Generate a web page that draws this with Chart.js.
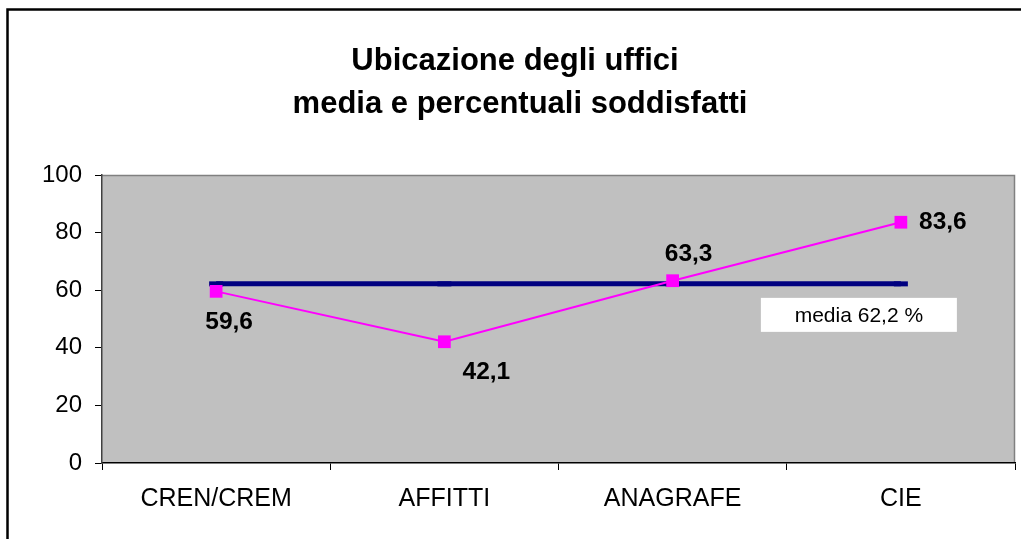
<!DOCTYPE html>
<html>
<head>
<meta charset="utf-8">
<title>Ubicazione degli uffici</title>
<script src="https://cdn.jsdelivr.net/npm/chart.js@4/dist/chart.umd.min.js"></script>
<style>
  html, body { margin: 0; padding: 0; background: #ffffff; }
  #wrap { position: relative; width: 1021px; height: 539px; }
</style>
</head>
<body>
<div id="wrap"><canvas id="chart" width="1021" height="539"></canvas></div>
<script>
// chart data
const categories = ["CREN/CREM", "AFFITTI", "ANAGRAFE", "CIE"];
const soddisfatti = [59.6, 42.1, 63.3, 83.6];
const mediaValue = 62.2;
const mediaLine = [mediaValue, mediaValue, mediaValue, mediaValue];
const yTicks = [0, 20, 40, 60, 80, 100];
const titleLines = ["Ubicazione degli uffici", "media e percentuali soddisfatti"];
const mediaLabel = "media 62,2 %";

const FONT = "'Liberation Sans', Arial, sans-serif";

// where each value label sits relative to its point (dx, dy)
const labelOffsets = [[13, 31], [42, 30], [16, -26], [42, 0]];

function fmt(v) {
  return v.toFixed(1).replace(".", ",");
}

const framePlugin = {
  id: "frame",
  beforeDraw: function (chart) {
    let ctx = chart.ctx;
    let a = chart.chartArea;
    ctx.save();
    ctx.fillStyle = "#ffffff";
    ctx.fillRect(0, 0, chart.width, chart.height);
    // outer chart border
    ctx.strokeStyle = "#000000";
    ctx.lineWidth = 2.5;
    ctx.strokeRect(7.5, 9.5, chart.width + 20, chart.height + 20);
    // plot area
    ctx.fillStyle = "#c0c0c0";
    ctx.fillRect(a.left, a.top, a.right - a.left, a.bottom - a.top);
    ctx.strokeStyle = "#808080";
    ctx.lineWidth = 1.5;
    ctx.beginPath();
    ctx.moveTo(a.left, a.top + 0.5);
    ctx.lineTo(a.right - 0.5, a.top + 0.5);
    ctx.lineTo(a.right - 0.5, a.bottom);
    ctx.stroke();
    ctx.restore();
  },
  afterDraw: function (chart) {
    let ctx = chart.ctx;
    let xs = chart.scales.x;
    let ys = chart.scales.y;
    ctx.save();

    // title
    ctx.fillStyle = "#000000";
    ctx.font = "bold 31px " + FONT;
    ctx.textAlign = "center";
    ctx.textBaseline = "alphabetic";
    ctx.fillText(titleLines[0], 515, 70);
    ctx.fillText(titleLines[1], 520, 113);

    // value labels
    ctx.font = "bold 24.5px " + FONT;
    ctx.textBaseline = "middle";
    for (let i = 0; i < soddisfatti.length; i++) {
      let px = xs.getPixelForValue(i);
      let py = ys.getPixelForValue(soddisfatti[i]);
      ctx.fillText(fmt(soddisfatti[i]), px + labelOffsets[i][0], py + labelOffsets[i][1]);
    }

    // media box
    let bx = xs.getPixelForValue(3) - 140;
    let by = ys.getPixelForValue(mediaValue) + 14;
    ctx.fillStyle = "#ffffff";
    ctx.fillRect(bx, by, 196, 34);
    ctx.fillStyle = "#000000";
    ctx.font = "21px " + FONT;
    ctx.fillText(mediaLabel, bx + 98, by + 18);
    ctx.restore();
  }
};

new Chart(document.getElementById("chart"), {
  type: "line",
  data: {
    labels: categories,
    datasets: [
      {
        label: "media",
        data: mediaLine,
        borderColor: "#000080",
        borderWidth: 5,
        pointStyle: "line",
        pointRadius: 7,
        pointBorderWidth: 5,
        pointBorderColor: "#000080",
        pointBackgroundColor: "#000080",
        fill: false,
        order: 2
      },
      {
        label: "soddisfatti",
        data: soddisfatti,
        borderColor: "#ff00ff",
        borderWidth: 2,
        pointStyle: "rect",
        pointRadius: 9,
        pointBorderWidth: 0,
        pointBackgroundColor: "#ff00ff",
        pointBorderColor: "#ff00ff",
        fill: false,
        order: 1
      }
    ]
  },
  options: {
    responsive: false,
    animation: false,
    layout: { autoPadding: false, padding: { top: 175, right: 6, left: 0, bottom: 0 } },
    plugins: {
      legend: { display: false },
      tooltip: { enabled: false },
      title: { display: false }
    },
    scales: {
      x: {
        offset: true,
        grid: {
          offset: true,
          drawOnChartArea: false,
          drawTicks: true,
          tickLength: 7,
          color: "#000000"
        },
        border: { display: true, color: "#000000", width: 1.5 },
        ticks: {
          color: "#000000",
          padding: 14,
          maxRotation: 0,
          font: { family: FONT, size: 25 }
        },
        afterFit: function (scale) {
          scale.height = 76;
          scale.paddingLeft = 0;
          scale.paddingRight = 0;
        }
      },
      y: {
        min: 0,
        max: 100,
        afterBuildTicks: function (scale) {
          scale.ticks = yTicks.map(function (v) { return { value: v }; });
        },
        grid: {
          drawOnChartArea: false,
          drawTicks: true,
          tickLength: 7,
          color: "#000000"
        },
        border: { display: true, color: "#404040", width: 1.5 },
        ticks: {
          color: "#000000",
          padding: 13,
          font: { family: FONT, size: 24 }
        },
        afterFit: function (scale) { scale.width = 102; }
      }
    }
  },
  plugins: [framePlugin]
});
</script>
</body>
</html>
